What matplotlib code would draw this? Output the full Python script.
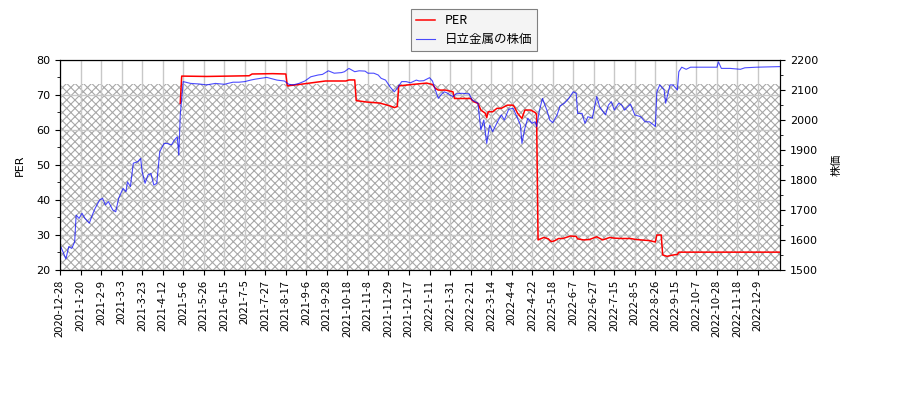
import matplotlib
matplotlib.use("Agg")
import matplotlib.pyplot as plt
from matplotlib.ticker import MultipleLocator
import numpy as np

plt.rcParams['font.family'] = ['DejaVu Sans', 'Noto Sans CJK JP']
plt.rcParams['hatch.linewidth'] = 0.8

# 取引日インデックス (2020-12-28 = 0) と株価
price_days = [0, 2, 4, 6, 8, 10, 11, 13, 15, 17, 20, 22, 24, 27, 29, 31, 33, 36, 38, 40,
              43, 45, 46, 48, 50, 53, 55, 56, 58, 60, 62, 64, 66, 68, 71, 73, 76, 78, 80, 81,
              82, 84, 89, 95, 100, 106, 112, 118, 122, 126, 130, 133, 137, 141, 144, 148, 153, 156, 159, 163,
              167, 171, 176, 179, 183, 187, 192, 194, 197, 201, 204, 208, 210, 214, 217, 219, 222, 225, 228, 230,
              233, 236, 239, 243, 245, 248, 252, 254, 256, 258, 260, 262, 264, 266, 268, 270, 274, 279, 281, 285,
              287, 289, 291, 293, 295, 299, 301, 303, 306, 309, 311, 314, 315, 317, 319, 322, 324, 325, 327, 329,
              332, 334, 336, 339, 341, 344, 347, 350, 352, 353, 356, 358, 360, 363, 366, 368, 372, 374, 376, 378,
              381, 383, 385, 389, 392, 396, 399, 402, 405, 406, 407, 409, 412, 413, 416, 418, 421, 422, 424, 427,
              430, 448, 449, 451, 457, 464, 467, 475, 491]
price_vals = [1583, 1561, 1537, 1578, 1572, 1594, 1683, 1672, 1689, 1672, 1656, 1683, 1706, 1733, 1739, 1717, 1728, 1700, 1694, 1739,
              1772, 1761, 1794, 1778, 1856, 1861, 1872, 1828, 1789, 1817, 1822, 1783, 1789, 1894, 1922, 1922, 1917, 1933, 1944, 1883,
              2017, 2128, 2122, 2120, 2117, 2122, 2119, 2126, 2126, 2128, 2133, 2136, 2139, 2142, 2138, 2133, 2130, 2119, 2117, 2122,
              2130, 2144, 2150, 2152, 2164, 2156, 2158, 2161, 2172, 2161, 2164, 2163, 2156, 2156, 2150, 2139, 2133, 2111, 2094, 2106,
              2128, 2128, 2124, 2133, 2130, 2131, 2141, 2130, 2100, 2072, 2085, 2094, 2090, 2083, 2078, 2087, 2089, 2087, 2067, 2056,
              1967, 2000, 1922, 1983, 1961, 2000, 2017, 2000, 2036, 2039, 2017, 1983, 1922, 1972, 2006, 1989, 1994, 1978, 2033, 2072,
              2033, 2000, 1991, 2017, 2047, 2056, 2072, 2094, 2089, 2022, 2022, 1989, 2011, 2006, 2078, 2044, 2017, 2050, 2061, 2033,
              2056, 2050, 2033, 2053, 2017, 2011, 1994, 1994, 1983, 1978, 2094, 2117, 2100, 2056, 2117, 2117, 2100, 2161, 2176, 2169,
              2176, 2176, 2194, 2172, 2172, 2169, 2174, 2176, 2178]

# PER
per_days = [82, 83, 100, 115, 129, 131, 145, 154, 155, 163, 172, 181, 195, 197, 201, 202, 209, 218, 225, 228,
            230, 231, 240, 250, 254, 256, 258, 263, 268, 269, 280, 282, 285, 287, 290, 291, 292, 295, 298, 301,
            305, 309, 310, 312, 315, 317, 321, 324, 325, 326, 330, 333, 335, 337, 340, 343, 348, 352, 353, 357,
            361, 366, 370, 375, 378, 383, 389, 393, 402, 406, 407, 410, 411, 414, 417, 420, 421, 422, 491]
per_vals = [67.6, 75.4, 75.3, 75.4, 75.5, 76.0, 76.1, 76.0, 72.6, 73.0, 73.5, 74.0, 74.0, 74.3, 74.3, 68.4, 68.0, 67.7, 66.9, 66.4,
            66.7, 72.6, 73.0, 73.4, 73.0, 71.9, 71.4, 71.4, 70.9, 69.0, 69.0, 68.1, 67.6, 65.7, 64.8, 63.5, 65.2, 65.2, 66.2, 66.2,
            67.1, 67.1, 66.5, 64.8, 63.3, 65.7, 65.7, 65.0, 64.5, 28.6, 29.3, 28.9, 28.1, 28.3, 29.0, 29.0, 29.7, 29.6, 28.9, 28.6,
            28.7, 29.5, 28.6, 29.3, 29.1, 29.0, 29.0, 28.7, 28.4, 28.0, 30.0, 30.0, 24.3, 23.9, 24.2, 24.4, 24.4, 25.1, 25.1]

band_top = 73.1

tick_labels = ['2020-12-28', '2021-1-20', '2021-2-9', '2021-3-3', '2021-3-23', '2021-4-12',
               '2021-5-6', '2021-5-26', '2021-6-15', '2021-7-5', '2021-7-27', '2021-8-17',
               '2021-9-6', '2021-9-28', '2021-10-18', '2021-11-8', '2021-11-29', '2021-12-17',
               '2022-1-11', '2022-1-31', '2022-2-21', '2022-3-14', '2022-4-4', '2022-4-22',
               '2022-5-18', '2022-6-7', '2022-6-27', '2022-7-15', '2022-8-5', '2022-8-26',
               '2022-9-15', '2022-10-7', '2022-10-28', '2022-11-18', '2022-12-9']
n_days = 492

fig = plt.figure(figsize=(9, 4), dpi=100)
ax = fig.add_axes([60 / 900, 130 / 400, 720 / 900, 210 / 400])

ax.axhspan(20, band_top, facecolor='white', edgecolor='#a8a8a8', hatch='xxxx', linewidth=0, zorder=0)
ln1, = ax.plot(per_days, per_vals, color='red', linewidth=1.1, label='PER', zorder=3)

ax.set_xlim(0, n_days - 1)
ax.set_ylim(20, 80)
ax.yaxis.set_major_locator(MultipleLocator(10))
ax.yaxis.set_minor_locator(MultipleLocator(5))
ax.set_xticks(np.arange(len(tick_labels)) * 14)
ax.set_xticklabels(tick_labels, rotation=90, fontsize=8, family=['Noto Sans CJK JP', 'DejaVu Sans'])
ax.tick_params(axis='y', labelsize=8)
ax.grid(True, color='#c8c8c8', linewidth=1)
ax.set_axisbelow(True)
ax.set_ylabel('PER', fontsize=8, labelpad=8)

ax2 = ax.twinx()
ln2, = ax2.plot(price_days, price_vals, color='blue', linewidth=0.8, alpha=0.7, label='日立金属の株価')
ax2.set_ylim(1500, 2200)
ax2.yaxis.set_major_locator(MultipleLocator(100))
ax2.yaxis.set_minor_locator(MultipleLocator(50))
ax2.tick_params(axis='y', labelsize=8)
ax2.set_ylabel('株価', fontsize=8, family=['Noto Sans CJK JP', 'DejaVu Sans'], labelpad=10)

leg = fig.legend(handles=[ln1, ln2], loc='upper left', bbox_to_anchor=(411 / 900, 1 - 9 / 400),
                 prop={'family': ['Noto Sans CJK JP', 'DejaVu Sans'], 'size': 9},
                 fancybox=False, framealpha=1, edgecolor='#808080', facecolor='#f4f4f4',
                 handlelength=1.5, borderpad=0.4, borderaxespad=0)
leg.get_frame().set_linewidth(0.8)

plt.savefig('out.png', dpi=100)
